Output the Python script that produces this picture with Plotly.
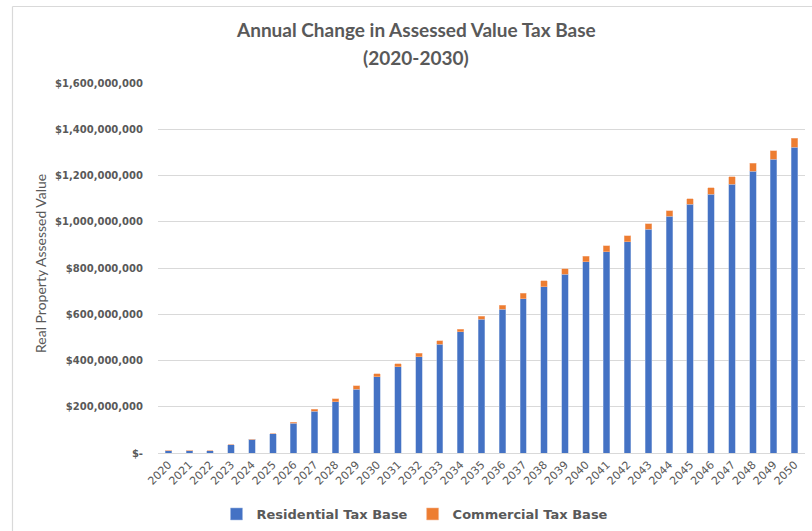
import plotly.graph_objects as go

# Assessed value tax base by year (USD)
years = [str(y) for y in range(2020, 2051)]

residential = [
    10e6, 10e6, 10e6, 35e6, 59e6, 84e6, 128e6, 181e6, 221e6, 276e6,
    329e6, 374e6, 416e6, 470e6, 524e6, 578e6, 621e6, 666e6, 719e6, 773e6,
    828e6, 871e6, 914e6, 968e6, 1023e6, 1075e6, 1118e6, 1163e6, 1218e6, 1271e6,
    1323e6,
]

commercial = [
    0, 0, 0, 0, 0, 0, 4e6, 8e6, 13e6, 14e6,
    13e6, 13e6, 15e6, 15e6, 12e6, 14e6, 19e6, 25e6, 25e6, 24e6,
    23e6, 25e6, 25e6, 24e6, 24e6, 24e6, 29e6, 32e6, 34e6, 36e6,
    38e6,
]

y_tick_values = [0, 2e8, 4e8, 6e8, 8e8, 10e8, 12e8, 14e8, 16e8]
y_tick_labels = [
    "$-", "$200,000,000", "$400,000,000", "$600,000,000", "$800,000,000",
    "$1,000,000,000", "$1,200,000,000", "$1,400,000,000", "$1,600,000,000",
]

title_lines = ["Annual Change in Assessed Value Tax Base", "(2020-2030)"]

BLUE = "#4472C4"
ORANGE = "#ED7D31"
GREY_TEXT = "#595959"
GRID = "#D9D9D9"

W, H = 812, 531
M_L, M_R, M_T, M_B = 158, 7, 83, 78
PLOT_W = W - M_L - M_R
PLOT_H = H - M_T - M_B


def px_x(px):
    return (px - M_L) / PLOT_W


def px_y(py):
    return (H - M_B - py) / PLOT_H


fig = go.Figure()
fig.add_trace(go.Bar(
    x=years, y=residential, name="Residential Tax Base",
    marker=dict(color=BLUE, line=dict(color="rgba(160,185,225,0.9)", width=0.6)),
))
fig.add_trace(go.Bar(
    x=years, y=commercial, name="Commercial Tax Base",
    marker=dict(color=ORANGE, line=dict(color="rgba(245,185,150,0.9)", width=0.6)),
))

title_font = dict(family="Lato", size=19, color=GREY_TEXT, weight="bold")
annotations = [
    dict(text=title_lines[0], xref="paper", yref="paper",
         x=px_x(416), y=px_y(30), xanchor="center", yanchor="middle",
         showarrow=False, font=title_font),
    dict(text=title_lines[1], xref="paper", yref="paper",
         x=px_x(416), y=px_y(57), xanchor="center", yanchor="middle",
         showarrow=False, font=title_font),
    dict(
        text="Real Property Assessed Value",
        textangle=-90,
        xref="paper", yref="paper",
        x=px_x(40), y=px_y(264),
        xanchor="center", yanchor="middle",
        showarrow=False,
        font=dict(family="Lato", size=14, color=GREY_TEXT),
    ),
]

fig.update_layout(
    width=W, height=H,
    barmode="stack",
    bargap=0.69,
    plot_bgcolor="white",
    paper_bgcolor="white",
    margin=dict(l=M_L, r=M_R, t=M_T, b=M_B, autoexpand=False),
    xaxis=dict(
        type="category",
        tickangle=-45,
        tickfont=dict(family="DejaVu Sans", size=11, color=GREY_TEXT),
        showgrid=False,
        showline=True, linecolor=GRID, linewidth=1,
        ticks="",
        automargin=False,
    ),
    yaxis=dict(
        range=[0, 1.6e9],
        tickvals=y_tick_values,
        ticktext=y_tick_labels,
        tickfont=dict(family="DejaVu Sans", size=10, color=GREY_TEXT, weight="bold"),
        showgrid=True, gridcolor=GRID, gridwidth=1,
        zeroline=False,
        ticklabelstandoff=14,
        automargin=False,
    ),
    legend=dict(
        orientation="h",
        x=px_x(415), xanchor="center",
        y=px_y(514), yanchor="middle",
        font=dict(family="DejaVu Sans", size=13, color=GREY_TEXT, weight="bold"),
        itemwidth=30,
        traceorder="normal",
    ),
    showlegend=True,
    annotations=annotations,
    shapes=[
        # chart area border (left and top edges)
        dict(type="line", xref="paper", yref="paper",
             x0=px_x(12.5), x1=px_x(12.5), y0=px_y(6.5), y1=px_y(H + 5),
             line=dict(color=GRID, width=1.2)),
        dict(type="line", xref="paper", yref="paper",
             x0=px_x(12.5), x1=px_x(W + 5), y0=px_y(6.5), y1=px_y(6.5),
             line=dict(color=GRID, width=1.2)),
    ],
)

fig.write_html("out.html")
